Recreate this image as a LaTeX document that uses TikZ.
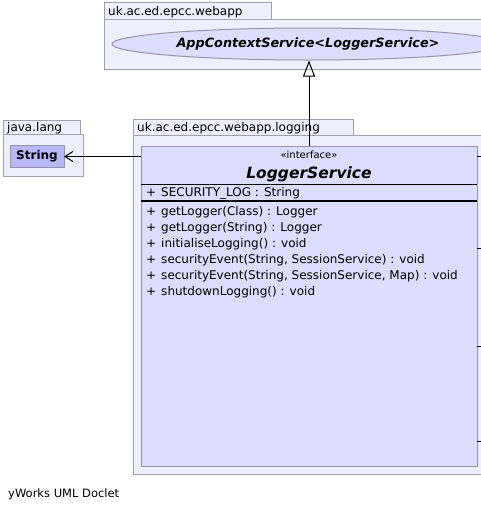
\documentclass[tikz,border=0pt]{standalone}
\usepackage{fontspec}
\setmainfont{DejaVu Sans}
\usetikzlibrary{shapes.geometric,arrows.meta}
\definecolor{pkgfill}{RGB}{238,238,252}
\definecolor{pkgline}{RGB}{160,160,176}
\definecolor{clsfill}{RGB}{220,220,252}
\definecolor{strfill}{RGB}{184,184,248}
\definecolor{clsline}{RGB}{150,150,170}
\tikzset{
  pkgbox/.style={draw=pkgline, fill=pkgfill, line width=1pt, inner sep=0pt, outer sep=0pt, anchor=north west},
  clsbox/.style={draw=clsline, fill=clsfill, line width=1pt, inner sep=0pt, outer sep=0pt, anchor=north west},
  strbox/.style={draw=clsline, fill=strfill, line width=1pt, inner sep=0pt, outer sep=0pt, font=\fontsize{12}{14}\selectfont\bfseries},
  pkglabel/.style={anchor=base west, inner sep=0pt, font=\fontsize{12}{14}\selectfont},
  member/.style={anchor=base west, inner sep=0pt, font=\fontsize{12}{14}\selectfont},
  conn/.style={draw=black, line width=1pt},
}
\begin{document}
\begin{tikzpicture}[x=1pt,y=-1pt]
\useasboundingbox (0,0) rectangle (481,512);
\clip (0,0) rectangle (481,512);
\fill[white] (0,0) rectangle (481,512);
% package uk.ac.ed.epcc.webapp
\node[pkgbox, minimum width=167pt, minimum height=17pt] (tabweb) at (104,2) {};
\node[pkgbox, minimum width=400pt, minimum height=50pt] (pkgweb) at (104,19) {};
\node[pkglabel] (lblweb) at (108,15.5) {uk.ac.ed.epcc.webapp};
\node[ellipse, draw=clsline, fill=clsfill, line width=1pt, inner sep=0pt,
      minimum width=392pt, minimum height=32pt,
      font=\fontsize{12.8}{15}\selectfont\bfseries\itshape] (app) at (308,44) {AppContextService<LoggerService>};
% package java.lang
\node[pkgbox, minimum width=77pt, minimum height=14pt] (tabjava) at (3,120) {};
\node[pkgbox, minimum width=80pt, minimum height=42pt] (pkgjava) at (3,134) {};
\node[pkglabel] (lbljava) at (7,131.5) {java.lang};
\node[strbox, minimum width=54pt, minimum height=22pt] (str) at (37,156.5) {String};
% package uk.ac.ed.epcc.webapp.logging
\node[pkgbox, minimum width=220pt, minimum height=16pt] (tablog) at (133,119) {};
\node[pkgbox, minimum width=400pt, minimum height=339pt] (pkglog) at (133,135) {};
\node[pkglabel] (lbllog) at (137,131.5) {uk.ac.ed.epcc.webapp.logging};
% class LoggerService
\node[clsbox, minimum width=336pt, minimum height=320pt] (cls) at (141,146) {};
\node[anchor=base, inner sep=0pt, font=\fontsize{10}{12}\selectfont] (stereo) at (309,158) {«interface»};
\node[anchor=base, inner sep=0pt, font=\fontsize{15.5}{18}\selectfont\bfseries\itshape] (name) at (309,178) {LoggerService};
\draw[line width=1pt] (cls.west |- 0,184) coordinate (sepa) -- (cls.east |- 0,184) coordinate (sepb);
\node[member] (attr) at (146,196.5) {+\hspace{5pt}\underline{SECURITY\_LOG} : String};
\draw[line width=2pt] (cls.west |- 0,201) coordinate (sepc) -- (cls.east |- 0,201) coordinate (sepd);
\node[member] (m1) at (146,215) {+\hspace{5pt}getLogger(Class) : Logger};
\node[member] (m2) at (146,231) {+\hspace{5pt}getLogger(String) : Logger};
\node[member] (m3) at (146,247) {+\hspace{5pt}initialiseLogging() : void};
\node[member] (m4) at (146,263) {+\hspace{5pt}securityEvent(String, SessionService) : void};
\node[member] (m5) at (146,279) {+\hspace{5pt}securityEvent(String, SessionService, Map) : void};
\node[member] (m6) at (146,295) {+\hspace{5pt}shutdownLogging() : void};
% connectors
\draw[conn, -{Triangle[open, length=16pt, width=12pt]}] (cls.north) -- (cls.north |- app.south);
\draw[conn, -{Straight Barb[length=8pt, width=10pt]}] (cls.west |- str.east) -- (str.east);
\coordinate (s1) at (481,156);
\coordinate (s2) at (481,248);
\coordinate (s3) at (481,346);
\coordinate (s4) at (481,441);
\draw[conn] (s1 -| cls.east) -- (s1);
\draw[conn] (s2 -| cls.east) -- (s2);
\draw[conn] (s3 -| cls.east) -- (s3);
\draw[conn] (s4 -| cls.east) -- (s4);
% footer
\node[anchor=base west, inner sep=0pt, font=\fontsize{11.5}{13}\selectfont] (footer) at (8,497) {yWorks UML Doclet};
\end{tikzpicture}
\end{document}
